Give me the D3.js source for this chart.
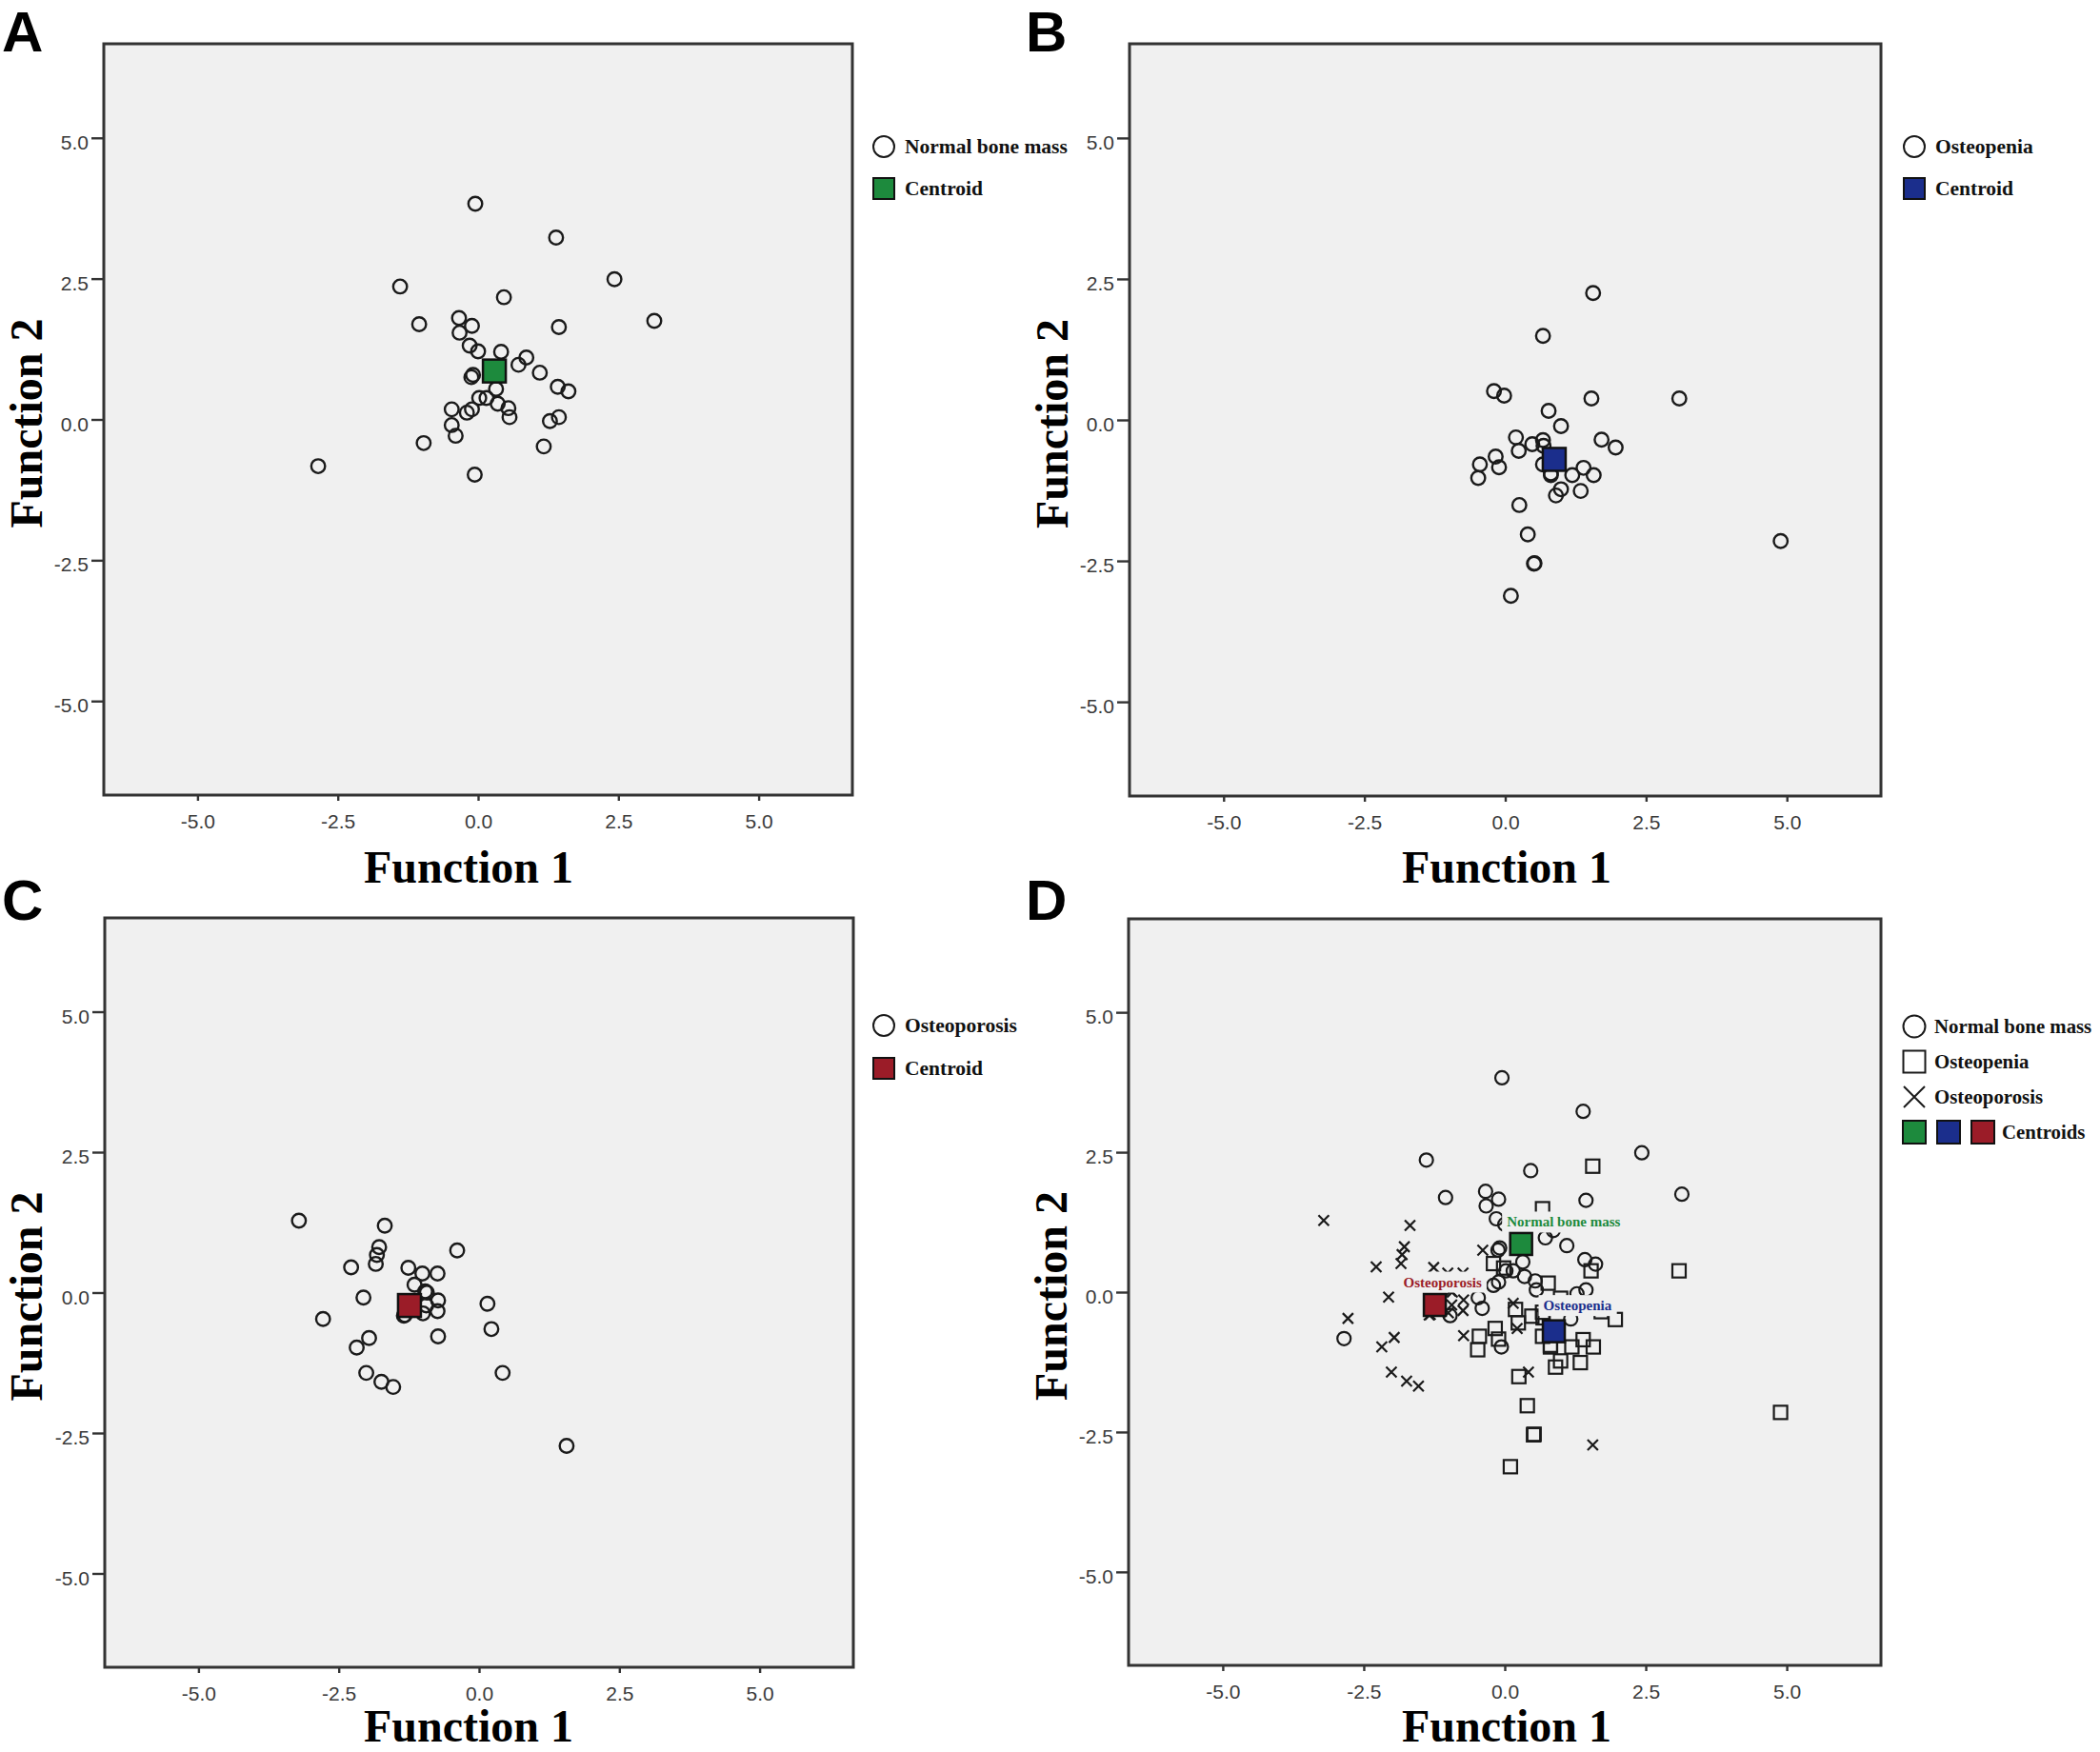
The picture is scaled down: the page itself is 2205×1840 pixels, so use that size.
<!DOCTYPE html>
<html><head><meta charset="utf-8">
<script src="https://cdn.jsdelivr.net/npm/d3@7"></script>
<style>html,body{margin:0;padding:0;background:#fff}svg{display:block}</style>
</head><body>
<script>
// ---------------- data ----------------
const tickValues = [-5.0, -2.5, 0.0, 2.5, 5.0];
const tickLabels = ["-5.0", "-2.5", "0.0", "2.5", "5.0"];
const axisTitleX = "Function 1";
const axisTitleY = "Function 2";
const panelLetters = ["A", "B", "C", "D"];
const groupNames = ["Normal bone mass", "Osteopenia", "Osteoporosis"];

const normalF1 = [-0.05,1.39,2.43,-1.39,0.46,-1.05,3.14,1.44,-0.34,-0.11,-0.33,-0.15,0.00,0.41,0.86,0.72,1.10,-0.09,-0.12,1.42,1.61,0.32,0.02,0.15,0.35,0.54,0.56,-0.47,-0.20,-0.11,-0.47,-0.40,1.44,1.28,-0.97,1.17,-2.85,-0.06];
const normalF2 = [3.83,3.23,2.49,2.36,2.17,1.69,1.75,1.64,1.80,1.66,1.54,1.31,1.21,1.20,1.10,0.97,0.83,0.79,0.75,0.58,0.50,0.54,0.38,0.38,0.28,0.20,0.04,0.18,0.12,0.18,-0.10,-0.29,0.04,-0.03,-0.42,-0.48,-0.83,-0.98];

const osteopeniaF1 = [1.56,0.67,-0.20,-0.02,1.53,3.09,0.77,0.99,0.19,0.48,0.67,0.68,1.71,1.96,0.24,-0.17,-0.11,-0.45,-0.48,0.67,0.81,0.81,1.19,1.39,1.57,0.99,0.90,1.34,0.25,0.40,0.51,0.52,4.89,0.10];
const osteopeniaF2 = [2.25,1.49,0.51,0.43,0.38,0.38,0.16,-0.11,-0.31,-0.43,-0.36,-0.46,-0.35,-0.49,-0.55,-0.65,-0.84,-0.79,-1.03,-0.79,-0.95,-0.98,-0.98,-0.85,-0.98,-1.23,-1.34,-1.26,-1.51,-2.03,-2.55,-2.54,-2.15,-3.12];

const osteoporosisF1 = [-3.21,-1.68,-1.78,-1.82,-1.84,-0.39,-2.28,-1.26,-1.01,-0.74,-1.15,-0.96,-0.93,-0.73,-0.74,-1.00,-0.94,-1.34,-2.06,-2.78,0.15,0.22,-0.73,-1.96,-2.18,-2.01,-1.74,-1.53,0.42,1.56,-1.32];
const osteoporosisF2 = [1.28,1.19,0.81,0.67,0.51,0.75,0.45,0.44,0.34,0.34,0.14,0.02,0.00,-0.14,-0.33,-0.37,-0.23,-0.41,-0.09,-0.47,-0.20,-0.65,-0.78,-0.81,-0.98,-1.43,-1.59,-1.68,-1.43,-2.73,-0.40];

const centroidF1 = [0.29, 0.87, -1.24];
const centroidF2 = [0.86, -0.70, -0.23];
const centroidColors = ["#1d8a3d", "#1b2e8c", "#9b1c28"];

// ---------------- layout ----------------
const W = 2205, H = 1840;
const domain = [-6.67, 6.67];
const serif = "'Liberation Serif','Times New Roman',serif";
const sans = "'Liberation Sans',Arial,sans-serif";

const groups = [
  {f1: normalF1, f2: normalF2, shape: "circle"},
  {f1: osteopeniaF1, f2: osteopeniaF2, shape: "square"},
  {f1: osteoporosisF1, f2: osteoporosisF2, shape: "cross"}
];

const panels = [
  {x0:109, x1:895, y0:46, y1:835, show:[0], lx:928, ly:154, lstep:44, letterX:2, letterY:54, titleXc:492, titleXb:927, titleYx:44, lfs:21.5},
  {x0:1186, x1:1975, y0:46, y1:836, show:[1], lx:2010, ly:154, lstep:44, letterX:1077, letterY:54, titleXc:1582, titleXb:927, titleYx:1121, lfs:21.5},
  {x0:110, x1:896, y0:964, y1:1751, show:[2], lx:928, ly:1077, lstep:45, letterX:2, letterY:966, titleXc:492, titleXb:1829, titleYx:44, lfs:21.5},
  {x0:1185, x1:1975, y0:965, y1:1749, show:[0,1,2], lx:2010, ly:1078, lstep:37, letterX:1077, letterY:966, titleXc:1582, titleXb:1829, titleYx:1120, combined:true, lfs:20.8}
];

const svg = d3.select("body").append("svg").attr("width", W).attr("height", H)
  .style("font-kerning", "normal");

function drawMarker(g, shape, x, y, size, sw) {
  if (shape === "circle") {
    g.append("circle").attr("cx", x).attr("cy", y).attr("r", size / 2)
      .attr("fill", "none").attr("stroke", "#1a1a1a").attr("stroke-width", sw);
  } else if (shape === "square") {
    g.append("rect").attr("x", x - size / 2).attr("y", y - size / 2)
      .attr("width", size).attr("height", size)
      .attr("fill", "none").attr("stroke", "#1a1a1a").attr("stroke-width", sw);
  } else {
    const h = size / 2;
    g.append("path").attr("d", `M${x-h},${y-h}L${x+h},${y+h}M${x-h},${y+h}L${x+h},${y-h}`)
      .attr("fill", "none").attr("stroke", "#1a1a1a").attr("stroke-width", sw);
  }
}

panels.forEach((p, pi) => {
  const xs = d3.scaleLinear().domain(domain).range([p.x0, p.x1]);
  const ys = d3.scaleLinear().domain(domain).range([p.y1, p.y0]);
  const g = svg.append("g");

  // background
  g.append("rect").attr("x", p.x0).attr("y", p.y0)
    .attr("width", p.x1 - p.x0).attr("height", p.y1 - p.y0).attr("fill", "#f0f0f0");

  // axes
  const xAxis = d3.axisBottom(xs).tickValues(tickValues)
    .tickFormat((d, i) => tickLabels[i]).tickSize(6).tickPadding(14);
  const yAxis = d3.axisLeft(ys).tickValues(tickValues)
    .tickFormat((d, i) => tickLabels[i]).tickSize(13).tickPadding(3);

  const gx = g.append("g").attr("transform", `translate(0,${p.y1})`).call(xAxis);
  const gy = g.append("g").attr("transform", `translate(${p.x0},0)`).call(yAxis);
  [gx, gy].forEach(a => {
    a.select(".domain").remove();
    a.selectAll(".tick line").attr("stroke", "#333").attr("stroke-width", 2.4);
    a.selectAll(".tick text").attr("fill", "#3a3a3a")
      .style("font-family", sans).style("font-size", "21px");
  });
  gy.selectAll(".tick text").attr("dy", "0.55em");

  // markers
  const mg = g.append("g");
  p.show.forEach(gi => {
    const grp = groups[gi];
    const shape = p.combined ? grp.shape : "circle";
    const size = p.combined ? (shape === "cross" ? 11 : 14) : 14.5;
    const sw = p.combined ? 2.2 : 2.4;
    grp.f1.forEach((v, i) => drawMarker(mg, shape, xs(v), ys(grp.f2[i]), size, sw));
  });

  // centroid labels (combined panel)
  if (p.combined) {
    const lblOff = [{dx:-15, dy:-18}, {dx:-11, dy:-22}, {dx:-33, dy:-19}];
    p.show.forEach(gi => {
      const cx = xs(centroidF1[gi]), cy = ys(centroidF2[gi]);
      const lg = g.append("g");
      const bg = lg.append("rect").attr("fill", "#f0f0f0");
      const t = lg.append("text").attr("x", cx + lblOff[gi].dx).attr("y", cy + lblOff[gi].dy)
        .attr("fill", centroidColors[gi]).style("font-family", serif)
        .style("font-weight", "bold").style("font-size", "15px").text(groupNames[gi]);
      const bb = t.node().getBBox();
      bg.attr("x", bb.x - 5).attr("y", bb.y - 3).attr("width", bb.width + 10).attr("height", bb.height + 6);
    });
  }

  // centroids
  p.show.forEach(gi => {
    const s = p.combined ? 23 : 24;
    g.append("rect").attr("x", xs(centroidF1[gi]) - s / 2).attr("y", ys(centroidF2[gi]) - s / 2)
      .attr("width", s).attr("height", s).attr("fill", centroidColors[gi])
      .attr("stroke", "#111").attr("stroke-width", 2.5);
  });

  // frame
  g.append("rect").attr("x", p.x0).attr("y", p.y0)
    .attr("width", p.x1 - p.x0).attr("height", p.y1 - p.y0)
    .attr("fill", "none").attr("stroke", "#333").attr("stroke-width", 3);

  // axis titles
  g.append("text").attr("x", p.titleXc).attr("y", p.titleXb).attr("text-anchor", "middle")
    .style("font-family", serif).style("font-weight", "bold").style("font-size", "48px")
    .attr("fill", "#000").text(axisTitleX);
  g.append("text").attr("transform", `translate(${p.titleYx},${(p.y0 + p.y1) / 2 + 4}) rotate(-90)`)
    .attr("text-anchor", "middle")
    .style("font-family", serif).style("font-weight", "bold").style("font-size", "48px")
    .attr("fill", "#000").text(axisTitleY);

  // panel letter
  svg.append("text").attr("x", p.letterX).attr("y", p.letterY)
    .style("font-family", sans).style("font-weight", "bold").style("font-size", "60px")
    .attr("fill", "#000").text(panelLetters[pi]);

  // legend
  const leg = g.append("g");
  const txt = (x, y, s) => leg.append("text").attr("x", x).attr("y", y + 7)
    .style("font-family", serif).style("font-weight", "bold").style("font-size", p.lfs + "px")
    .attr("fill", "#111").text(s);
  if (!p.combined) {
    const gi = p.show[0];
    drawMarker(leg, "circle", p.lx, p.ly, 22, 2);
    txt(p.lx + 22, p.ly, groupNames[gi]);
    leg.append("rect").attr("x", p.lx - 11).attr("y", p.ly + p.lstep - 11).attr("width", 22).attr("height", 22)
      .attr("fill", centroidColors[gi]).attr("stroke", "#111").attr("stroke-width", 2);
    txt(p.lx + 22, p.ly + p.lstep, "Centroid");
  } else {
    p.show.forEach((gi, k) => {
      drawMarker(leg, groups[gi].shape, p.lx, p.ly + k * p.lstep, gi === 2 ? 22 : 23, 2);
      txt(p.lx + 21, p.ly + k * p.lstep, groupNames[gi]);
    });
    const cy = p.ly + 3 * p.lstep;
    centroidColors.forEach((c, k) => {
      leg.append("rect").attr("x", p.lx - 12 + k * 36).attr("y", cy - 12).attr("width", 24).attr("height", 24)
        .attr("fill", c).attr("stroke", "#111").attr("stroke-width", 2);
    });
    txt(p.lx + 92, cy, "Centroids");
  }
});
</script>
</body></html>
